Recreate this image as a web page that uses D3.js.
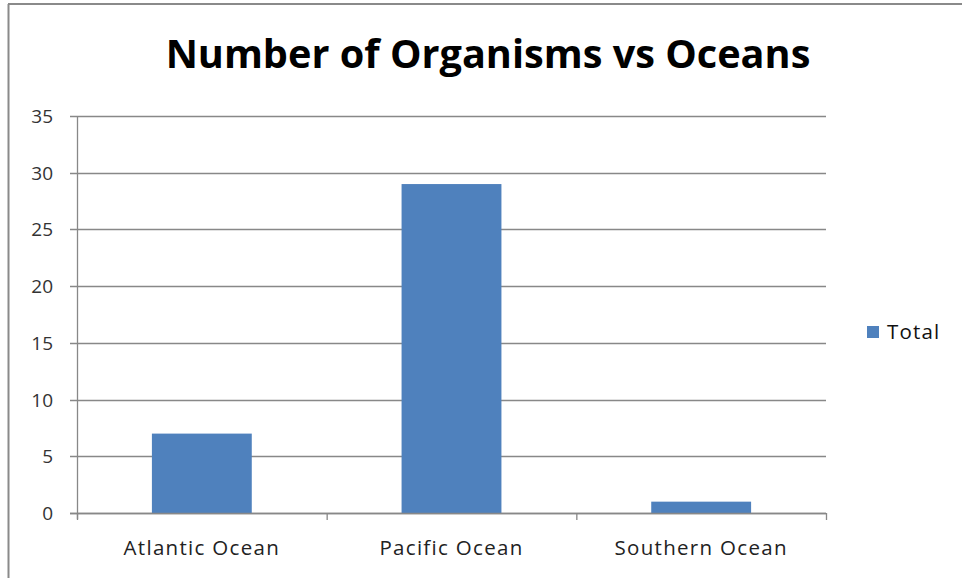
<!DOCTYPE html>
<html>
<head>
<meta charset="utf-8">
<script src="https://cdn.jsdelivr.net/npm/d3@7"></script>
<style>
  body { margin: 0; background: #fff; }
  text { font-family: "Open Sans", Lato, sans-serif; }
</style>
</head>
<body>
<svg id="chart" width="962" height="578"></svg>
<script>
const categories = ["Atlantic Ocean", "Pacific Ocean", "Southern Ocean"];
const totals = [7, 29, 1];
const yTicks = [0, 5, 10, 15, 20, 25, 30, 35];
const seriesName = "Total";
const chartTitle = "Number of Organisms vs Oceans";

const svg = d3.select("#chart");
const plot = { left: 77, right: 826, top: 116, bottom: 513 };
const barColor = "#4F81BD";
const gridColor = "#888888";

// frame lines (only top and left show in the picture)
svg.append("line")
    .attr("x1", 8).attr("y1", 4).attr("x2", 962).attr("y2", 4)
    .attr("stroke", "#8a8a8a").attr("stroke-width", 2);
svg.append("line")
    .attr("x1", 8.5).attr("y1", 4).attr("x2", 8.5).attr("y2", 578)
    .attr("stroke", "#8a8a8a").attr("stroke-width", 2);

const x = d3.scaleBand()
    .domain(categories)
    .range([plot.left, plot.right])
    .paddingInner(0.6)
    .paddingOuter(0.3);

const y = d3.scaleLinear()
    .domain([0, 35])
    .range([plot.bottom, plot.top]);

// gridlines
svg.append("g")
    .selectAll("line")
    .data(yTicks)
    .enter()
    .append("line")
    .attr("x1", plot.left - 7)
    .attr("x2", plot.right)
    .attr("y1", (d) => Math.round(y(d)) + 0.5)
    .attr("y2", (d) => Math.round(y(d)) + 0.5)
    .attr("stroke", gridColor)
    .attr("stroke-width", 1.3);

// y labels
svg.append("g")
    .selectAll("text")
    .data(yTicks)
    .enter()
    .append("text")
    .attr("x", 53)
    .attr("y", (d) => y(d) + 7)
    .attr("text-anchor", "end")
    .attr("font-size", 19)
    .attr("fill", "#333")
    .text((d) => d);

// bars
svg.append("g")
    .selectAll("rect")
    .data(totals)
    .enter()
    .append("rect")
    .attr("x", (d, i) => x(categories[i]))
    .attr("y", (d) => y(d))
    .attr("width", x.bandwidth())
    .attr("height", (d) => y(0) - y(d))
    .attr("fill", barColor);

// y axis line
svg.append("line")
    .attr("x1", plot.left + 0.5).attr("x2", plot.left + 0.5)
    .attr("y1", plot.top).attr("y2", plot.bottom + 6)
    .attr("stroke", gridColor).attr("stroke-width", 1.3);

// x axis line + category ticks
const step = (plot.right - plot.left) / categories.length;
svg.append("line")
    .attr("x1", plot.left - 7).attr("x2", plot.right)
    .attr("y1", Math.round(y(0)) + 0.5).attr("y2", Math.round(y(0)) + 0.5)
    .attr("stroke", gridColor).attr("stroke-width", 1.3);
svg.append("g")
    .selectAll("line")
    .data(d3.range(categories.length + 1))
    .enter()
    .append("line")
    .attr("x1", (d) => plot.left + d * step + 0.5)
    .attr("x2", (d) => plot.left + d * step + 0.5)
    .attr("y1", y(0))
    .attr("y2", y(0) + 7)
    .attr("stroke", gridColor)
    .attr("stroke-width", 1.3);

// category labels
svg.append("g")
    .selectAll("text")
    .data(categories)
    .enter()
    .append("text")
    .attr("x", (d) => x(d) + x.bandwidth() / 2)
    .attr("y", 555)
    .attr("text-anchor", "middle")
    .attr("font-size", 20.5)
    .attr("letter-spacing", 1.3)
    .attr("fill", "#222")
    .text((d) => d);

// title, sized to the reference width
const title = svg.append("text")
    .attr("x", 488)
    .attr("y", 68)
    .attr("text-anchor", "middle")
    .attr("font-weight", "bold")
    .attr("font-size", 38)
    .attr("fill", "#000")
    .text(chartTitle);
const tw = title.node().getComputedTextLength();
title.attr("font-size", 38 * 645 / tw);

// legend
svg.append("rect")
    .attr("x", 867).attr("y", 326)
    .attr("width", 12).attr("height", 12)
    .attr("fill", barColor);
svg.append("text")
    .attr("x", 887).attr("y", 339)
    .attr("font-size", 20.5)
    .attr("letter-spacing", 1.2)
    .attr("fill", "#111")
    .text(seriesName);
</script>
</body>
</html>
